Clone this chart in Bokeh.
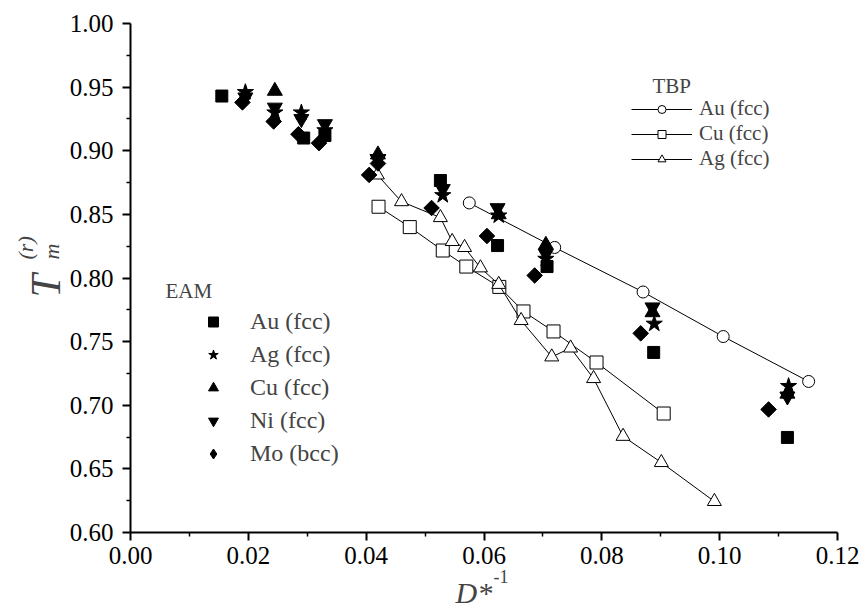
import math
from bokeh.plotting import figure
from bokeh.models import (Label, Legend, LegendItem, FixedTicker, NumeralTickFormatter, Range1d,
                          CDSView, IndexFilter, ColumnDataSource)
from bokeh.embed import file_html
from bokeh.resources import INLINE

# TBP series
tbp_au_x = [0.0575, 0.072, 0.087, 0.1006, 0.1151]
tbp_au_y = [0.859, 0.824, 0.789, 0.754, 0.7187]
tbp_cu_x = [0.0421, 0.0474, 0.053, 0.057, 0.0626, 0.0667, 0.0718, 0.0791, 0.0905]
tbp_cu_y = [0.856, 0.840, 0.8216, 0.809, 0.793, 0.7737, 0.758, 0.7336, 0.6935]
tbp_ag_x = [0.0419, 0.046, 0.0526, 0.0546, 0.0567, 0.0594, 0.0625, 0.0663, 0.0715, 0.0747, 0.0786, 0.0836, 0.0901, 0.0991]
tbp_ag_y = [0.881, 0.860, 0.8475, 0.8287, 0.824, 0.808, 0.795, 0.7666, 0.738, 0.745, 0.721, 0.6756, 0.655, 0.6244]

# EAM series
eam_au_x = [0.0155, 0.0294, 0.033, 0.0526, 0.0623, 0.0707, 0.0888, 0.1115]
eam_au_y = [0.943, 0.910, 0.912, 0.8766, 0.8255, 0.809, 0.7415, 0.6747]
eam_ag_x = [0.0195, 0.0245, 0.029, 0.033, 0.042, 0.053, 0.0625, 0.0705, 0.0889, 0.1117]
eam_ag_y = [0.946, 0.930, 0.930, 0.916, 0.895, 0.865, 0.849, 0.815, 0.764, 0.715]
eam_cu_x = [0.0245, 0.042, 0.0625, 0.0705, 0.0886, 0.1115]
eam_cu_y = [0.947, 0.897, 0.850, 0.826, 0.773, 0.709]
eam_ni_x = [0.0195, 0.0245, 0.029, 0.033, 0.042, 0.053, 0.0623, 0.0705, 0.0886, 0.1115]
eam_ni_y = [0.942, 0.934, 0.925, 0.921, 0.893, 0.870, 0.855, 0.819, 0.777, 0.707]
eam_mo_x = [0.019, 0.0243, 0.0285, 0.032, 0.0405, 0.042, 0.0511, 0.0605, 0.0686, 0.0866, 0.1083]
eam_mo_y = [0.938, 0.923, 0.913, 0.906, 0.881, 0.890, 0.855, 0.833, 0.802, 0.7565, 0.6967]

x_ticks = [0.00, 0.02, 0.04, 0.06, 0.08, 0.10, 0.12]
y_ticks = [0.60, 0.65, 0.70, 0.75, 0.80, 0.85, 0.90, 0.95, 1.00]

tbp_names = ["Au (fcc)", "Cu (fcc)", "Ag (fcc)"]
eam_names = ["Au (fcc)", "Ag (fcc)", "Cu (fcc)", "Ni (fcc)", "Mo (bcc)"]

FONT = "Liberation Serif"

# Canvas and plotting-area geometry (pixels)
W, H = 861, 611
AX_L, AX_R, AX_T, AX_B = 130, 837, 23, 532
X0, X1 = x_ticks[0], x_ticks[-1]
Y0, Y1 = y_ticks[0], y_ticks[-1]
kx = (AX_R - AX_L) / (X1 - X0)
ky = (AX_B - AX_T) / (Y1 - Y0)

# The frame covers the whole canvas; axes are drawn at fixed data locations so that
# axis titles placed around them stay inside the frame.
p = figure(width=W, height=H, output_backend="svg", toolbar_location=None,
           x_range=Range1d(X0 - AX_L / kx, X1 + (W - AX_R) / kx),
           y_range=Range1d(Y0 - (H - AX_B) / ky, Y1 + AX_T / ky),
           min_border=0)
p.outline_line_color = None
p.xgrid.visible = False
p.ygrid.visible = False
p.background_fill_color = "white"
p.border_fill_color = "white"

p.xaxis[0].fixed_location = Y0
p.xaxis[0].bounds = (X0, X1)
p.yaxis[0].fixed_location = X0
p.yaxis[0].bounds = (Y0, Y1)

for ax, ticks, standoff in ((p.xaxis[0], x_ticks, 6), (p.yaxis[0], y_ticks, 9)):
    minor = [round(ticks[i] + (ticks[1] - ticks[0]) / 2, 4) for i in range(len(ticks) - 1)]
    ax.ticker = FixedTicker(ticks=ticks, minor_ticks=minor)
    ax.formatter = NumeralTickFormatter(format="0.00")
    ax.major_label_text_font = FONT
    ax.major_label_text_font_size = "25px"
    ax.major_label_text_color = "black"
    ax.axis_line_width = 2
    ax.major_tick_line_width = 2
    ax.minor_tick_line_width = 1.5
    ax.major_tick_out = 8
    ax.major_tick_in = 0
    ax.minor_tick_out = 4
    ax.minor_tick_in = 0
    ax.major_label_standoff = standoff

# TBP lines + open markers
r_tbp = []
for xs, ys, mk, sz in ((tbp_au_x, tbp_au_y, "circle", 12),
                       (tbp_cu_x, tbp_cu_y, "square", 13),
                       (tbp_ag_x, tbp_ag_y, "triangle", 14)):
    ln = p.line(xs, ys, line_color="black", line_width=1)
    sc = p.scatter(xs, ys, marker=mk, size=sz, fill_color="white", line_color="black", line_width=1)
    r_tbp.append((ln, sc))

# EAM filled markers
r_eam = []
for xs, ys, mk, sz, ang in ((eam_au_x, eam_au_y, "square", 12, 0),
                            (eam_ag_x, eam_ag_y, "star", 17, 0),
                            (eam_cu_x, eam_cu_y, "triangle", 15, 0),
                            (eam_ni_x, eam_ni_y, "inverted_triangle", 15, 0),
                            (eam_mo_x, eam_mo_y, "square", 11, math.pi / 4)):
    sc = p.scatter(xs, ys, marker=mk, size=sz, angle=ang, fill_color="black", line_color="black")
    r_eam.append(sc)

# Legend glyph for Mo: a diamond drawn on the first Mo point, fully covered by the
# rotated square there (legend glyphs ignore rotation).
mo_src = ColumnDataSource(dict(x=eam_mo_x, y=eam_mo_y))
mo_leg = p.scatter("x", "y", source=mo_src, view=CDSView(filter=IndexFilter([0])),
                   marker="diamond", size=14, fill_color="black", line_color="black")
leg_eam_r = r_eam[:4] + [mo_leg]

leg_tbp = Legend(items=[LegendItem(label=n, renderers=[l, s]) for n, (l, s) in zip(tbp_names, r_tbp)],
                 location=(631, 440), glyph_width=61, glyph_height=20, label_height=20,
                 spacing=0, label_standoff=7, padding=0, margin=0,
                 border_line_color=None, background_fill_alpha=0,
                 label_text_font=FONT, label_text_font_size="21px")
leg_eam = Legend(items=[LegendItem(label=n, renderers=[s]) for n, s in zip(eam_names, leg_eam_r)],
                 location=(198, 144), glyph_width=30, glyph_height=25, label_height=25,
                 spacing=6, label_standoff=22, padding=0, margin=0,
                 border_line_color=None, background_fill_alpha=0,
                 label_text_font=FONT, label_text_font_size="24px")
p.add_layout(leg_tbp)
p.add_layout(leg_eam)


def add_text(x, y, text, size, italic=False, angle=0.0, baseline="alphabetic", align="left"):
    # x, y are pixel positions measured from the canvas' top-left corner
    p.add_layout(Label(x=x, y=H - y, x_units="screen", y_units="screen", text=text,
                       text_font=FONT, text_font_size=size,
                       text_font_style="italic" if italic else "normal",
                       angle=angle, text_baseline=baseline, text_align=align))


# Legend titles
add_text(652, 85, "TBP", "21px", baseline="middle")
add_text(165, 290, "EAM", "21px", baseline="middle")

# Axis titles
add_text(455, 592, "D*", "30px", italic=True)
add_text(493, 576, "-1", "18px")
add_text(45, 297, "T", "42px", italic=True, angle=math.pi / 2)
add_text(25, 259, "(r)", "22px", italic=True, angle=math.pi / 2)
add_text(51, 259, "m", "22px", italic=True, angle=math.pi / 2)

open("out.html", "w").write(file_html(p, INLINE))
